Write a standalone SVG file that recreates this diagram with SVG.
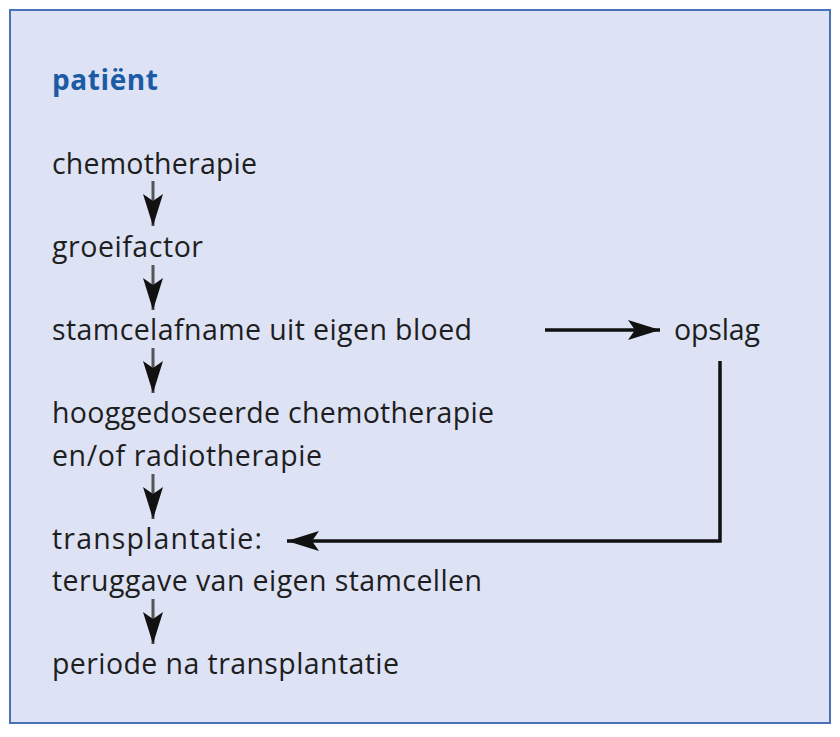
<svg xmlns="http://www.w3.org/2000/svg" width="840" height="737" viewBox="0 0 840 737">
<defs>
<style>
.t{font-family:"Open Sans","Noto Sans",sans-serif;font-size:28.5px;fill:#1e1e1e}
.h{font-family:"Open Sans","Noto Sans",sans-serif;font-size:28px;font-weight:bold;fill:#1b5aa5}
.v{stroke:#555;stroke-width:3;fill:none}
.c{stroke:#111;stroke-width:3.5;fill:none}
</style>
<marker id="ah" markerUnits="userSpaceOnUse" markerWidth="32" markerHeight="20" refX="32" refY="10" orient="auto">
<path d="M0,0 L32,10 L0,20 L7,10 z" fill="#111"/>
</marker>
</defs>
<rect width="840" height="737" fill="#ffffff"/>
<rect x="10" y="10" width="820" height="713" fill="#dde2f4" stroke="#4a72b8" stroke-width="2"/>
<g id="title"><text class="h" x="52" y="90" textLength="106" lengthAdjust="spacing">patiënt</text></g>
<g id="n1"><text class="t" x="52" y="174" textLength="205" lengthAdjust="spacing">chemotherapie</text></g>
<g id="n2"><text class="t" x="52" y="257" textLength="151" lengthAdjust="spacing">groeifactor</text></g>
<g id="n3"><text class="t" x="52" y="340" textLength="420" lengthAdjust="spacing">stamcelafname uit eigen bloed</text></g>
<g id="n4"><text class="t" x="674" y="340" textLength="86" lengthAdjust="spacing">opslag</text></g>
<g id="n5"><text class="t" x="52" y="423" textLength="442" lengthAdjust="spacing">hooggedoseerde chemotherapie</text><text class="t" x="52" y="466" textLength="270" lengthAdjust="spacing">en/of radiotherapie</text></g>
<g id="n6"><text class="t" x="52" y="549" textLength="210" lengthAdjust="spacing">transplantatie:</text><text class="t" x="52" y="591" textLength="430" lengthAdjust="spacing">teruggave van eigen stamcellen</text></g>
<g id="n7"><text class="t" x="52" y="674" textLength="347" lengthAdjust="spacing">periode na transplantatie</text></g>
<g id="connectors">
<line class="v" x1="153" y1="181" x2="153" y2="226" marker-end="url(#ah)"/>
<line class="v" x1="153" y1="265" x2="153" y2="310" marker-end="url(#ah)"/>
<line class="v" x1="153" y1="348" x2="153" y2="393" marker-end="url(#ah)"/>
<line class="v" x1="153" y1="474" x2="153" y2="519" marker-end="url(#ah)"/>
<line class="v" x1="153" y1="599" x2="153" y2="644" marker-end="url(#ah)"/>
<line class="c" x1="545" y1="330" x2="660" y2="330" marker-end="url(#ah)"/>
<polyline class="c" points="720,361 720,541 287,541" marker-end="url(#ah)"/>
</g>
</svg>
